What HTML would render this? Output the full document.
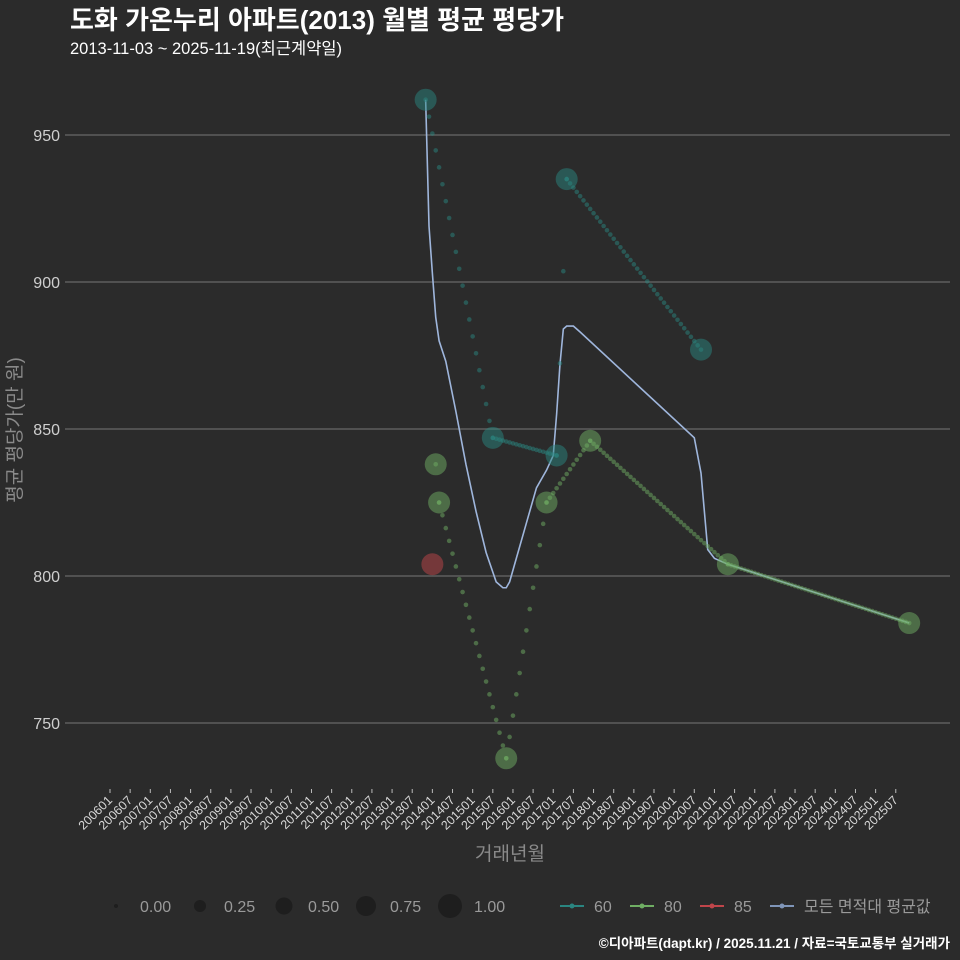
<!DOCTYPE html>
<html><head><meta charset="utf-8">
<style>
body{margin:0;background:#2b2b2b;width:960px;height:960px;overflow:hidden;font-family:"Liberation Sans","Noto Sans CJK KR",sans-serif}
</style></head>
<body>
<svg id="chart" width="960" height="960" xmlns="http://www.w3.org/2000/svg" style="position:absolute;left:0;top:0">
<rect width="960" height="960" fill="#2b2b2b"/>
<text x="70" y="29" fill="#ffffff" font-size="26" font-weight="bold" font-family="Liberation Sans, Noto Sans CJK KR, sans-serif">도화 가온누리 아파트(2013) 월별 평균 평당가</text>
<text x="70" y="54" fill="#ffffff" font-size="16.5" font-family="Liberation Sans, Noto Sans CJK KR, sans-serif">2013-11-03 ~ 2025-11-19(최근계약일)</text>
<g id="grid"></g><g id="avg"></g><g id="series"></g><g id="xaxis"></g><g id="yaxis"></g>
<text x="510" y="860" fill="#8a8a8a" font-size="19" text-anchor="middle" font-family="Liberation Sans, Noto Sans CJK KR, sans-serif">거래년월</text>
<text transform="translate(21,430) rotate(-90)" fill="#8a8a8a" font-size="19" text-anchor="middle" font-family="Liberation Sans, Noto Sans CJK KR, sans-serif">평균 평당가(만 원)</text>
<g id="legend"></g>
<text x="950" y="948" fill="#ffffff" font-size="13.5" font-weight="bold" text-anchor="end" font-family="Liberation Sans, Noto Sans CJK KR, sans-serif">©디아파트(dapt.kr) / 2025.11.21 / 자료=국토교통부 실거래가</text>
</svg>
<script>
const yTicks=[750,800,850,900,950];
const s60Months=["201311","201507","201702","201705","202009"];
const s60Values=[962,847,841,935,877];
const s80Months=["201402","201403","201511","201611","201712","202105","202511"];
const s80Values=[838,825,738,825,846,804,784];
const s85Months=["201401"];
const s85Values=[804];
const avgMonths=["201311","201312","201401","201402","201403","201405","201408","201411","201502","201505","201508","201510","201511","201512","201602","201605","201608","201611","201701","201702","201703","201704","201705","201707","201709","202007","202009","202010","202011","202101","202103","202105","202511"];
const avgValues=[962,919,903,888,880,873,856,838,822,808,798,796,796,798,806,818,830,836,841,855,872,884,885,885,883,847,835,822,809,806,805,804,784];
const NS="http://www.w3.org/2000/svg";
function mi(s){return (parseInt(s.slice(0,4))-2006)*12+parseInt(s.slice(4))-1;}
function X(s){return 110+mi(s)*3.358;}
function Xm(m){return 110+m*3.358;}
function Y(v){return 576-(v-800)*2.94;}
function el(t,a,p){const e=document.createElementNS(NS,t);for(const k in a)e.setAttribute(k,a[k]);document.getElementById(p).appendChild(e);return e;}
yTicks.forEach(v=>{
 const l=el('line',{x1:65,x2:950,y1:Y(v),y2:Y(v),stroke:'#5e5e5e','stroke-width':1.5},'grid');
 
 
 const t=el('text',{x:60,y:Y(v)+6,fill:'#cfcfcf','font-size':16,'text-anchor':'end'},'yaxis');
 t.textContent=v;
 
 
});
for(let y=2006;y<=2025;y++){for(const mm of ['01','07']){
 const lab=''+y+mm;const x=X(lab);
 const tk=el('line',{x1:x,x2:x,y1:789,y2:793,stroke:'#bbbbbb'},'xaxis');
 
 
 const t=el('text',{x:x+3,y:801,fill:'#d8d8d8','font-size':12.5,'text-anchor':'end',transform:`rotate(-45 ${x+3} 801)`},'xaxis');
 t.textContent=lab;
 
 
}}
const ap=el('polyline',{points:avgMonths.map((m,i)=>X(m)+','+Y(avgValues[i])).join(' '),fill:'none',stroke:'#9fb6dc','stroke-width':1.6},'avg');


function drawSeries(months,vals,color,name){
 for(let i=0;i<months.length-1;i++){
  const a=mi(months[i]),b=mi(months[i+1]);
  for(let k=0;k<=b-a;k++){
   const t=k/(b-a);const v=vals[i]+(vals[i+1]-vals[i])*t;
   const c=el('circle',{cx:Xm(a+k),cy:Y(v),r:2.3,fill:color,'fill-opacity':0.5},'series');
   
   
  }
 }
 months.forEach((m,i)=>{
  const c=el('circle',{cx:X(m),cy:Y(vals[i]),r:11,fill:color,'fill-opacity':0.5},'series');
  
  
 });
}
drawSeries(s60Months,s60Values,'#2a8580','series-60');
drawSeries(s80Months,s80Values,'#6fae63','series-80');
drawSeries(s85Months,s85Values,'#c0454a','series-85');
const sizes=[['0.00',2,116],['0.25',6,200],['0.50',8.5,284],['0.75',10,366],['1.00',12,450]];
sizes.forEach(s=>{
 const c=el('circle',{cx:s[2],cy:906,r:s[1],fill:'#1e1e1e'},'legend');
 
 
 const t=el('text',{x:s[2]+24,y:912,fill:'#9a9a9a','font-size':16},'legend');
 t.textContent=s[0];
 
 
});
const leg=[['60','#2a8580',560],['80','#6fae63',630],['85','#c0454a',700],['모든 면적대 평균값','#7f95b8',770]];
leg.forEach(g=>{
 const l=el('line',{x1:g[2],x2:g[2]+24,y1:906,y2:906,stroke:g[1],'stroke-width':2},'legend');
 
 
 el('circle',{cx:g[2]+12,cy:906,r:2.5,fill:g[1]},'legend');
 const t=el('text',{x:g[2]+34,y:912,fill:'#9a9a9a','font-size':16},'legend');
 t.textContent=g[0];
 
 
});
</script>
</body></html>
